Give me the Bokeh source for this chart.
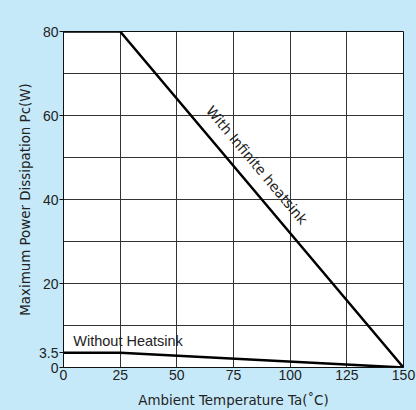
from bokeh.plotting import figure
from bokeh.models import FixedTicker, Range1d, GlobalInlineStyleSheet, Label
from bokeh.embed import file_html
from bokeh.resources import INLINE

# Data
ta_infinite = [0, 25, 150]
pc_infinite = [80, 80, 0]
ta_without = [0, 25, 150]
pc_without = [3.5, 3.5, 0]
x_ticks = [0, 25, 50, 75, 100, 125, 150]
y_ticks = [0, 3.5, 20, 40, 60, 80]
y_grid = [10, 20, 30, 40, 50, 60, 70]
label_infinite = "With Infinite heatsink"
label_without = "Without Heatsink"

BG = "#c6e9f9"
FONT = "Liberation Sans"
WIDE = "DejaVu Sans"
TXT = "#222222"

p = figure(width=416, height=410, output_backend="svg", toolbar_location=None,
           x_range=Range1d(0, 150), y_range=Range1d(0, 80),
           min_border_left=63, min_border_top=31, min_border_right=13, min_border_bottom=40)
p.stylesheets = [GlobalInlineStyleSheet(css=f"html, body {{ background: {BG}; }}")]
p.background_fill_color = "white"
p.border_fill_color = BG
p.outline_line_color = "#111111"
p.outline_line_width = 1

p.xaxis.ticker = FixedTicker(ticks=x_ticks)
p.yaxis.ticker = FixedTicker(ticks=y_ticks)
p.yaxis.major_label_overrides = {3.5: "3.5"}
p.xgrid.ticker = FixedTicker(ticks=x_ticks[1:-1])
p.ygrid.ticker = FixedTicker(ticks=y_grid)
p.grid.grid_line_color = "#333333"
p.grid.grid_line_width = 1
p.grid.grid_line_alpha = 1

for ax in (p.xaxis, p.yaxis):
    ax.axis_line_color = "#111111"
    ax.minor_tick_line_color = None
    ax.major_label_text_font = FONT
    ax.major_label_text_font_size = "14px"
    ax.major_label_text_color = TXT
    ax.axis_label_text_font = WIDE
    ax.axis_label_text_font_size = "13.4px"
    ax.axis_label_text_font_style = "normal"
    ax.axis_label_text_color = TXT

p.xaxis.major_tick_out = 0
p.xaxis.major_tick_in = 0
p.xaxis.major_label_standoff = 2
p.yaxis.major_tick_out = 4
p.yaxis.major_tick_in = 0
p.yaxis.major_tick_line_color = "#111111"
p.yaxis.major_label_standoff = 1
p.xaxis.axis_label = "Ambient Temperature Ta(˚C)"
p.yaxis.axis_label = "Maximum Power Dissipation Pc(W)"
p.xaxis.axis_label_standoff = 10
p.yaxis.axis_label_standoff = 3

p.line(ta_infinite, pc_infinite, line_color="black", line_width=2.5)
p.line(ta_without, pc_without, line_color="black", line_width=2.5)

p.add_layout(Label(x=4.3, y=6.4, text=label_without, text_font=FONT, text_font_size="14.5px",
                   text_color=TXT, text_baseline="alphabetic", text_align="left"))
p.add_layout(Label(x=85.3, y=48.2, text=label_infinite, text_font=WIDE, text_font_size="14px",
                   text_color=TXT, text_baseline="middle", text_align="center",
                   angle=-50.1, angle_units="deg"))

open("out.html", "w").write(file_html(p, INLINE))
